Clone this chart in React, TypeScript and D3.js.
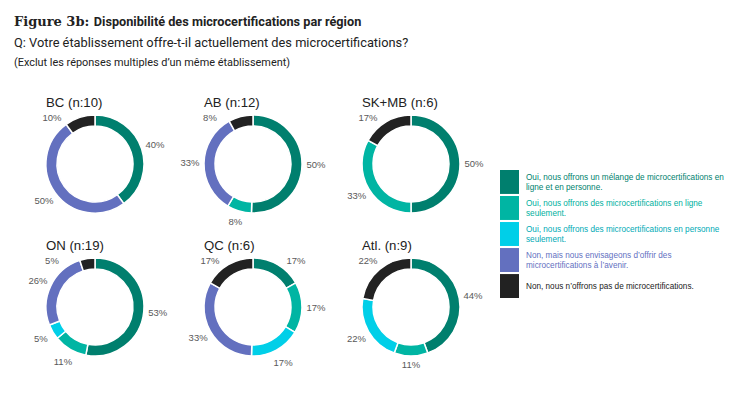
import { useEffect, useRef } from "react";
import * as d3 from "d3";

const regions = ["BC (n:10)", "AB (n:12)", "SK+MB (n:6)", "ON (n:19)", "QC (n:6)", "Atl. (n:9)"];

// percentages per region, in category order
const mixte = [40, 50, 50, 53, 17, 44];
const enLigne = [0, 8, 33, 11, 17, 11];
const enPersonne = [0, 0, 0, 5, 17, 22];
const envisage = [50, 33, 0, 26, 33, 0];
const nonPas = [10, 8, 17, 5, 17, 22];

const categories = [
  ["Oui, nous offrons un mélange de microcertifications en", "ligne et en personne."],
  ["Oui, nous offrons des microcertifications en ligne", "seulement."],
  ["Oui, nous offrons des microcertifications en personne", "seulement."],
  ["Non, mais nous envisageons d’offrir des", "microcertifications à l’avenir."],
  ["Non, nous n’offrons pas de microcertifications."],
];

const colors = ["#007f6e", "#00b5a3", "#00cfe8", "#6370bf", "#222222"];
const textColors = ["#007f6e", "#00b09e", "#00aab5", "#6370bf", "#222222"];

const W = 749;
const H = 393;

export default function App() {
  const svgRef = useRef<SVGSVGElement>(null);

  useEffect(() => {
    const svg = d3.select(svgRef.current);
    svg.selectAll("*").remove();

    // header
    const head = svg.append("text").attr("x", 14).attr("y", 26);
    head
      .append("tspan")
      .attr("font-family", "'DejaVu Serif', serif")
      .attr("font-size", 13)
      .attr("font-weight", 600)
      .attr("fill", "#222")
      .text("Figure 3b: ");
    head
      .append("tspan")
      .attr("font-family", "Roboto, sans-serif")
      .attr("font-size", 12.7)
      .attr("font-weight", 700)
      .attr("fill", "#222")
      .text("Disponibilité des microcertifications par région");

    svg
      .append("text")
      .attr("x", 14)
      .attr("y", 47)
      .attr("font-family", "Roboto, sans-serif")
      .attr("font-size", 12.8)
      .attr("fill", "#222")
      .text("Q: Votre établissement offre-t-il actuellement des microcertifications?");
    svg
      .append("text")
      .attr("x", 14)
      .attr("y", 66)
      .attr("font-family", "Roboto, sans-serif")
      .attr("font-size", 10.9)
      .attr("fill", "#222")
      .text("(Exclut les réponses multiples d’un même établissement)");

    const xPos = d3.scalePoint<number>().domain([0, 1, 2]).range([95, 411]);
    const yPos = d3.scalePoint<number>().domain([0, 1]).range([164, 307]);

    const outerR = 49;
    const innerR = 38;
    const labelR = 63;

    const pie = d3
      .pie<number>()
      .sort(null)
      .value((d) => d);
    const arc = d3.arc<d3.PieArcDatum<number>>().innerRadius(innerR).outerRadius(outerR);
    const labelArc = d3.arc<d3.PieArcDatum<number>>().innerRadius(labelR).outerRadius(labelR);

    // keep labels clear of the titles above each ring
    const labelPos = (d: d3.PieArcDatum<number>): [number, number] => {
      let [x, y] = labelArc.centroid(d);
      if (y < -46) {
        y = -46;
        x = Math.sign(x || -1) * Math.sqrt(labelR * labelR - y * y);
      } else if (y > 58) {
        y = 58;
      }
      return [x, y];
    };

    regions.forEach((name, i) => {
      const values = [mixte[i], enLigne[i], enPersonne[i], envisage[i], nonPas[i]];
      const cx = xPos(i % 3)!;
      const cy = yPos(Math.floor(i / 3))!;
      const g = svg.append("g").attr("transform", `translate(${cx},${cy})`);

      g.append("text")
        .attr("x", -outerR)
        .attr("y", -outerR - 8)
        .attr("font-family", "'Liberation Sans', Arial, sans-serif")
        .attr("font-size", 13.2)
        .attr("fill", "#222")
        .text(name);

      const arcs = pie(values)
        .map((d, k) => ({ ...d, k }))
        .filter((d) => d.value > 0);
      g.selectAll("path.slice")
        .data(arcs)
        .enter()
        .append("path")
        .attr("d", (d) => arc(d) as string)
        .attr("fill", (d) => colors[d.k])
        .attr("stroke", "#fff")
        .attr("stroke-width", 1.5);

      g.selectAll("text.lbl")
        .data(arcs)
        .enter()
        .append("text")
        .attr("x", (d) => labelPos(d)[0])
        .attr("y", (d) => labelPos(d)[1])
        .attr("dy", "0.35em")
        .attr("text-anchor", "middle")
        .attr("font-family", "'Liberation Sans', Arial, sans-serif")
        .attr("font-size", 9.5)
        .attr("fill", "#595959")
        .text((d) => `${d.value}%`);
    });

    // legend
    const legY = d3.scaleBand<number>().domain(d3.range(categories.length)).range([170, 298]).paddingInner(0.08);
    const leg = svg.append("g");
    categories.forEach((lines, k) => {
      const y0 = legY(k)!;
      const bh = legY.bandwidth();
      leg
        .append("rect")
        .attr("x", 500)
        .attr("y", y0)
        .attr("width", 19)
        .attr("height", bh)
        .attr("fill", colors[k]);
      const t = leg
        .append("text")
        .attr("font-family", "'Liberation Sans', Arial, sans-serif")
        .attr("font-size", 8.2)
        .attr("fill", textColors[k]);
      const top = y0 + bh / 2 - ((lines.length - 1) * 10.5) / 2;
      lines.forEach((ln, j) => {
        t.append("tspan")
          .attr("x", 526)
          .attr("y", top + j * 10.5)
          .attr("dy", "0.35em")
          .text(ln);
      });
    });
  }, []);

  return <svg ref={svgRef} width={W} height={H} style={{ position: "absolute", left: 0, top: 0, background: "#fff" }} />;
}
